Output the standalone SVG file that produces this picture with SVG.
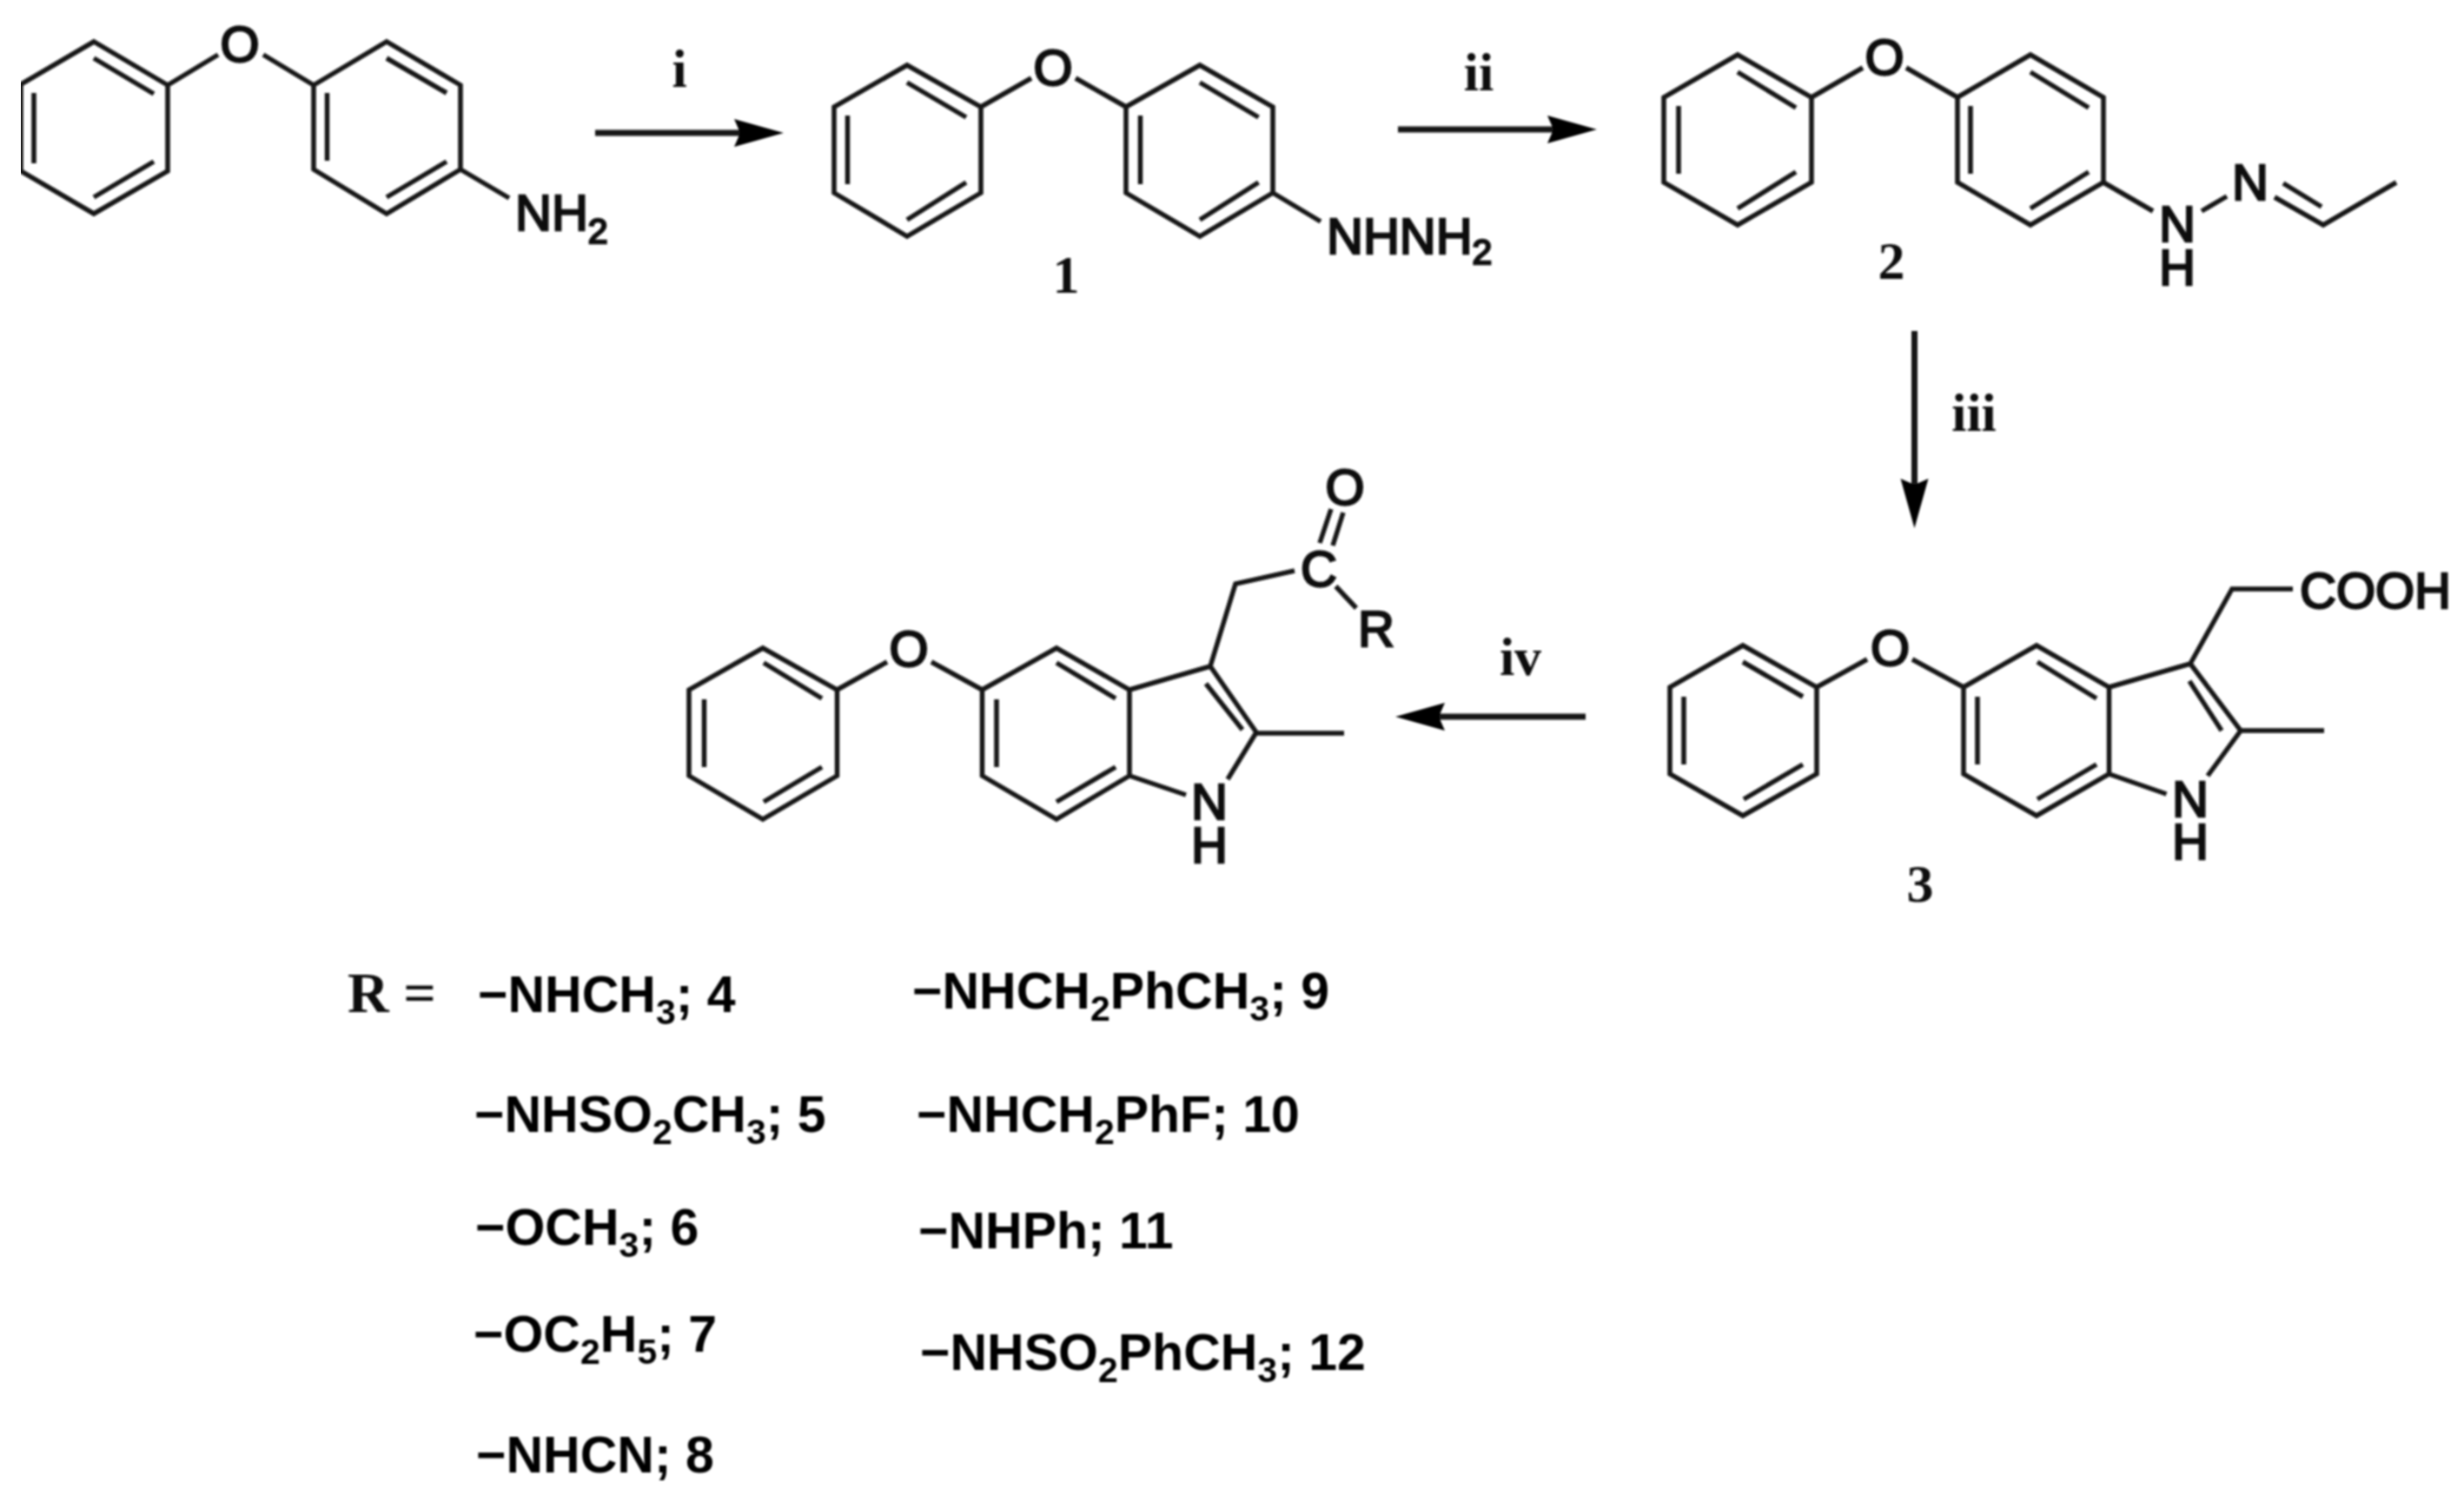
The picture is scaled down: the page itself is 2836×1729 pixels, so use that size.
<svg xmlns="http://www.w3.org/2000/svg" width="2836" height="1729" viewBox="0 0 2836 1729">
<style>
.b{fill:none;stroke:#141414;stroke-width:5.500;stroke-linejoin:miter}
.a{fill:#111;font-family:"Liberation Sans",Arial,sans-serif;font-size:58px;stroke:#111;stroke-width:2.500}
.am{text-anchor:middle}
.s{font-size:41px}
.r{fill:#000;font-family:"Liberation Sans",Arial,sans-serif;font-weight:bold;font-size:59px}
.t{fill:#111;font-family:"Liberation Serif","Times New Roman",serif;font-weight:bold;font-size:62px;text-anchor:middle}
.arrow{fill:none;stroke:#141414;stroke-width:7}
</style>
<defs>
<marker id="head" markerUnits="userSpaceOnUse" markerWidth="60" markerHeight="36" refX="25" refY="18" orient="auto"><path d="M0,2 L57,18 L0,34 L7,18 Z" fill="#000"/></marker>
<filter id="soft" x="0" y="0" width="100%" height="100%"><feGaussianBlur stdDeviation="0.800"/></filter>
</defs>
<rect width="2836" height="1729" fill="#fff"/>
<g filter="url(#soft)">
<g id="connectors">
<path id="arrow-i" class="arrow" marker-end="url(#head)" d="M685,153 H870"/>
<path id="arrow-ii" class="arrow" marker-end="url(#head)" d="M1609,149 H1806"/>
<path id="arrow-iii" class="arrow" marker-end="url(#head)" d="M2203.500,381 V576"/>
<path id="arrow-iv" class="arrow" marker-end="url(#head)" d="M1825,825 H1638"/>
<text class="t" x="782" y="100">i</text>
<text class="t" x="1702" y="104">ii</text>
<text class="t" x="2272" y="496">iii</text>
<text class="t" x="1750" y="777">iv</text>
</g>
<g id="aniline">
<path class="b" d="M108,48 L24,97 V197 L108,246 L193,197 V98 Z M108,67 L177,108 M39,107 V188 M108,227 L177,186 M193,98 L251,63 M303,63 L361,98 M361,98 L445,48 L530,98 V195 L445,246 L361,195 Z M445,67 L514,107 M376.500,107 V185 M445,227 L514,186 M530,195 L586,228"/>
<text class="a am" x="276" y="71">O</text>
<text class="a" x="593" y="265">NH<tspan class="s" dy="15">2</tspan></text>
</g>
<g id="compound-1">
<path class="b" d="M1044,75 L960,123 V222 L1044,272 L1129,222 V123 Z M1044,95 L1112,135 M975.500,133 V212 M1044,253 L1112,210 M1129,123 L1187,90 M1238,90 L1296,123 M1296,123 L1381,75 L1465,123 V222 L1381,272 L1296,222 Z M1381,95 L1448.500,135 M1312.500,133 V212 M1381,253 L1448.500,210 M1465,222 L1520,255"/>
<text class="a am" x="1212" y="98">O</text>
<text class="a" x="1527" y="292">NHNH<tspan class="s" dy="12">2</tspan></text>
<text class="t" x="1227" y="337">1</text>
</g>
<g id="compound-2">
<path class="b" d="M2000,63 L1915,112 V210 L2000,259 L2085,210 V112 Z M2000,83 L2067,124 M1932,122 V200 M2000,240 L2067,198 M2085,112 L2144,78 M2194,78 L2253,112 M2253,112 L2337,63 L2421,112 V210 L2337,259 L2253,210 Z M2337,83 L2404,124 M2268,122 V200 M2337,240 L2404,198 M2421,210 L2478,243 M2534,243 L2563,226 M2618,227 L2674,259 L2758,210 M2628,211 L2672,238"/>
<text class="a am" x="2169" y="86">O</text>
<text class="a am" x="2506" y="278">N</text>
<text class="a am" x="2506" y="328">H</text>
<text class="a am" x="2590" y="230">N</text>
<text class="t" x="2177" y="321">2</text>
</g>
<g id="compound-3">
<path class="b" d="M2006,743 L1922,791 V891 L2006,939 L2091,891 V791 Z M2006,762 L2075,802 M1938,802 V880 M2007,920 L2075,880 M2091,791 L2149,759 M2201,759 L2260,791 M2260,791 L2344,743 L2427.500,791 V891 L2344,939 L2260,891 Z M2345,762 L2413,804 M2276,802 V880 M2345,920 L2413,880 M2427.500,791 L2521,764 L2579,841 L2541,893 M2427.500,891 L2493.500,914 M2520,784 L2557,841 M2579,841 H2675 M2521,764 L2569,678 H2639"/>
<text class="a am" x="2175.500" y="766">O</text>
<text class="a" x="2647" y="700">COOH</text>
<text class="a am" x="2521" y="940">N</text>
<text class="a am" x="2521" y="989">H</text>
<text class="t" x="2210" y="1038">3</text>
</g>
<g id="product">
<path class="b" d="M878,746 L793,794 V893 L878,943 L963.500,893 V794 Z M879,763 L946,804 M810.500,805 V883 M879,923 L946,883 M963.500,794 L1021,762 M1072,762 L1130.500,794 M1130.500,794 L1216,746 L1300,794 V893 L1216,943 L1130.500,893 Z M1216,763 L1284,804 M1147,805 V883 M1216,923 L1284,883 M1300,794 L1393,767 L1446,843 L1413,897 M1300,893 L1365,915 M1388,787 L1430,840 M1446,844 H1547 M1393,767 L1422,672 L1490,657 M1519,625 L1532,586 M1534,628 L1546,590 M1537.500,675 L1561,700"/>
<text class="a am" x="1046" y="767">O</text>
<text class="a am" x="1518" y="675">C</text>
<text class="a am" x="1548" y="581">O</text>
<text class="a" x="1563" y="744">R</text>
<text class="a am" x="1392" y="943">N</text>
<text class="a am" x="1392" y="993">H</text>
</g>
<g id="r-groups">
<text x="400" y="1165" style="fill:#111;font-family:'Liberation Serif',serif;font-weight:bold;font-size:66px">R =</text>
<text class="r" x="550" y="1165">−NHCH<tspan class="s" dy="14">3</tspan><tspan dy="-14">; 4</tspan></text>
<text class="r" x="546" y="1303">−NHSO<tspan class="s" dy="14">2</tspan><tspan dy="-14">CH</tspan><tspan class="s" dy="14">3</tspan><tspan dy="-14">; 5</tspan></text>
<text class="r" x="547" y="1433">−OCH<tspan class="s" dy="14">3</tspan><tspan dy="-14">; 6</tspan></text>
<text class="r" x="545" y="1556">−OC<tspan class="s" dy="14">2</tspan><tspan dy="-14">H</tspan><tspan class="s" dy="14">5</tspan><tspan dy="-14">; 7</tspan></text>
<text class="r" x="548" y="1695">−NHCN; 8</text>
<text class="r" x="1050" y="1161">−NHCH<tspan class="s" dy="14">2</tspan><tspan dy="-14">PhCH</tspan><tspan class="s" dy="14">3</tspan><tspan dy="-14">; 9</tspan></text>
<text class="r" x="1055" y="1303">−NHCH<tspan class="s" dy="14">2</tspan><tspan dy="-14">PhF; 10</tspan></text>
<text class="r" x="1057" y="1437">−NHPh; 11</text>
<text class="r" x="1059" y="1577">−NHSO<tspan class="s" dy="14">2</tspan><tspan dy="-14">PhCH</tspan><tspan class="s" dy="14">3</tspan><tspan dy="-14">; 12</tspan></text>
</g>
</g>
</svg>
